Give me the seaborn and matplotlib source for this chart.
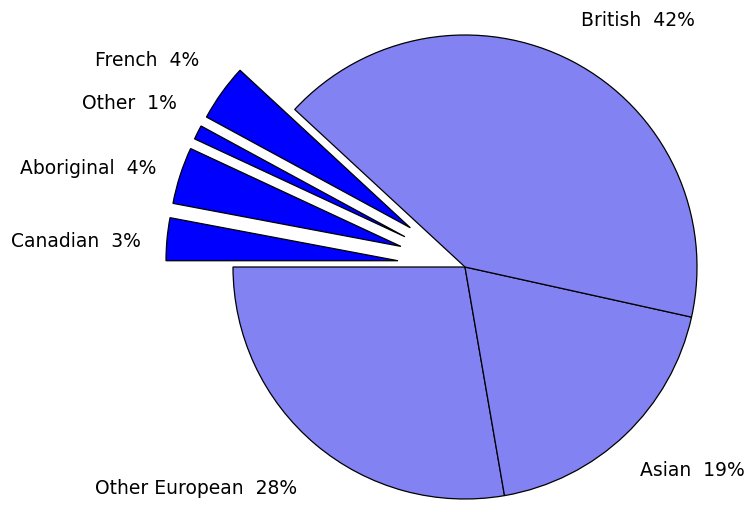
import matplotlib
matplotlib.use("Agg")
import matplotlib.pyplot as plt
import seaborn as sns

sns.set_style("white")
plt.rcParams['font.family'] = ['DejaVu Sans']

# data, in drawing order (counter-clockwise from 9 o'clock)
groups = ["Other European", "Asian", "British", "French", "Other", "Aboriginal", "Canadian"]
shares = [28, 19, 42, 4, 1, 4, 3]
pulled_out = ["French", "Other", "Aboriginal", "Canadian"]

light = "#8282f2"
strong = "#0000ff"
colors = [strong if g in pulled_out else light for g in groups]
explode = [0.29 if g in pulled_out else 0 for g in groups]

# label anchor points (left edge of text), in pie-radius units
label_pos = {
    "British": (0.50, 1.065),
    "Asian": (0.755, -0.875),
    "Other European": (-1.595, -0.95),
    "Canadian": (-1.955, 0.115),
    "Aboriginal": (-1.92, 0.43),
    "Other": (-1.65, 0.71),
    "French": (-1.595, 0.895),
}

fig = plt.figure(figsize=(7.52, 5.06), dpi=100)
ax = fig.add_axes([0, 0, 1, 1])

wedges, texts = ax.pie(shares, labels=[f"{g}  {s}%" for g, s in zip(groups, shares)],
                       colors=colors, explode=explode, startangle=180, counterclock=True,
                       wedgeprops=dict(edgecolor="black", linewidth=0.9),
                       textprops=dict(fontsize=13.5, color="black"))

for g, t in zip(groups, texts):
    t.set_position(label_pos[g])
    t.set_ha("left")
    t.set_va("center")

ax.set_aspect("auto")
ax.set_xlim(-465 / 232, (752 - 465) / 232)
ax.set_ylim(-(506 - 268) / 232, 268 / 232)
ax.axis("off")

fig.savefig("out.png", dpi=100)
